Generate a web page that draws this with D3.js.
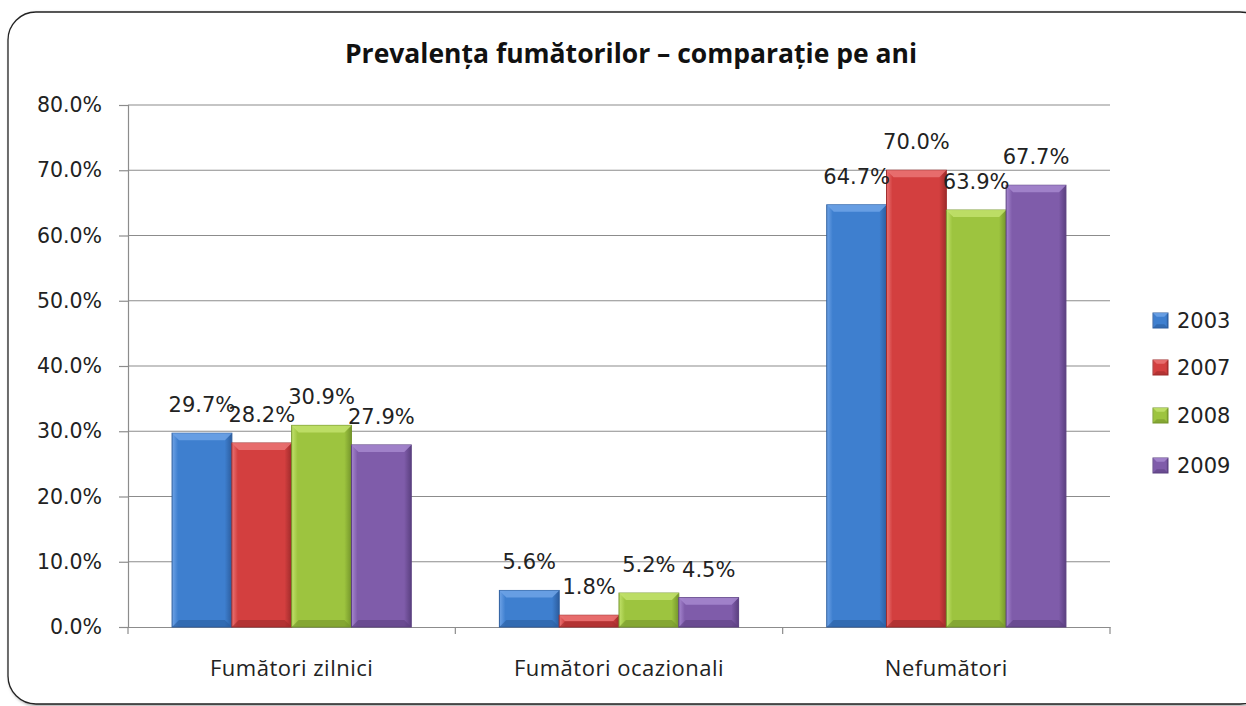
<!DOCTYPE html>
<html><head><meta charset="utf-8">
<script src="https://cdn.jsdelivr.net/npm/d3@7"></script>
<style>body{margin:0;background:#fff}svg{display:block}</style>
</head><body>
<script>
const categories = ["Fumători zilnici", "Fumători ocazionali", "Nefumători"];
const seriesNames = ["2003", "2007", "2008", "2009"];
const values2003 = [29.7, 5.6, 64.7];
const values2007 = [28.2, 1.8, 70.0];
const values2008 = [30.9, 5.2, 63.9];
const values2009 = [27.9, 4.5, 67.7];
const yTicks = [0, 10, 20, 30, 40, 50, 60, 70, 80];
const titleText = "Prevalența fumătorilor – comparație pe ani";

(function () {
const series = [values2003, values2007, values2008, values2009];
const colors = [
  {main:"#3e7fcf", light:"#6fa3e6", dark:"#2c5d9e"},
  {main:"#d33f3f", light:"#ea7474", dark:"#9e2b2b"},
  {main:"#9dc43f", light:"#c2e26c", dark:"#74952b"},
  {main:"#7f5caa", light:"#a687cf", dark:"#5b4080"}
];

const W = 1246, H = 706;
const svg = d3.select("body").append("svg").attr("width", W).attr("height", H);
const defs = svg.append("defs");
colors.forEach((c, i) => {
  const g = defs.append("linearGradient").attr("id", "g" + i).attr("x1", 0).attr("x2", 1).attr("y1", 0).attr("y2", 0);
  g.append("stop").attr("offset", 0).attr("stop-color", c.light);
  g.append("stop").attr("offset", 0.1).attr("stop-color", c.main);
  g.append("stop").attr("offset", 0.88).attr("stop-color", c.main);
  g.append("stop").attr("offset", 1).attr("stop-color", c.dark);
});
const sh = defs.append("filter").attr("id", "sh").attr("x", -0.05).attr("y", -0.05).attr("width", 1.1).attr("height", 1.1);
sh.append("feDropShadow").attr("dx", 1.5).attr("dy", 1.5).attr("stdDeviation", 1.5).attr("flood-color", "#000").attr("flood-opacity", 0.35);

// outer border
svg.append("rect").attr("x", 8).attr("y", 12).attr("width", 1260).attr("height", 692)
  .attr("rx", 28).attr("ry", 28).attr("fill", "#fff").attr("stroke", "#222").attr("stroke-width", 1.3)
  .attr("filter", "url(#sh)");

const pLeft = 128, pRight = 1110, pTop = 105, pBottom = 627;
const y = d3.scaleLinear().domain([0, 80]).range([pBottom, pTop]);
const x0 = d3.scaleBand().domain(categories).range([pLeft, pRight]).paddingInner(0).paddingOuter(0);
const x1 = d3.scaleBand().domain(seriesNames).range([0, x0.bandwidth()]).paddingOuter(0.737).paddingInner(0);

// title
svg.append("text").attr("x", 631).attr("y", 63).attr("text-anchor", "middle")
  .attr("font-family", "Open Sans, sans-serif").attr("font-weight", "bold").attr("font-size", 26.5)
  .attr("fill", "#111").text(titleText);

// gridlines
svg.append("g").selectAll("line").data(yTicks.filter(d => d > 0)).join("line")
  .attr("x1", pLeft).attr("x2", pRight).attr("y1", d => y(d)).attr("y2", d => y(d))
  .attr("stroke", "#8c8c8c").attr("stroke-width", 1.2);

// y axis
const yAxis = svg.append("g").attr("transform", `translate(${pLeft},0)`)
  .call(d3.axisLeft(y).tickValues(yTicks).tickFormat(d => d.toFixed(1) + "%").tickSize(9).tickPadding(17));
yAxis.select(".domain").attr("stroke", "#8c8c8c").attr("stroke-width", 1.2);
yAxis.selectAll(".tick line").attr("stroke", "#8c8c8c").attr("stroke-width", 1.2);
yAxis.selectAll(".tick text").attr("font-family", "DejaVu Sans, sans-serif").attr("font-size", 20.5).attr("fill", "#222");

// x axis
const xAxis = svg.append("g").attr("transform", `translate(0,${pBottom})`)
  .call(d3.axisBottom(x0).tickSize(0).tickPadding(0));
xAxis.select(".domain").attr("stroke", "#8c8c8c").attr("stroke-width", 1.2);
xAxis.selectAll(".tick text").attr("y", 49).attr("dy", 0)
  .attr("font-family", "Open Sans, sans-serif").attr("font-size", 22).attr("letter-spacing", 0.5).attr("fill", "#222");
svg.append("g").selectAll("line").data([0, 1, 2, 3]).join("line")
  .attr("x1", i => pLeft + i * x0.bandwidth()).attr("x2", i => pLeft + i * x0.bandwidth())
  .attr("y1", pBottom).attr("y2", pBottom + 7).attr("stroke", "#8c8c8c").attr("stroke-width", 1.2);

// bars
function bevelBar(g, bx, by, bw, bh, ci) {
  const c = colors[ci];
  g.append("rect").attr("x", bx).attr("y", by).attr("width", bw).attr("height", bh)
    .attr("fill", `url(#g${ci})`).attr("stroke", c.dark).attr("stroke-width", 1);
  const b = Math.min(7, bh / 2, bw / 4);
  g.append("path").attr("d", `M${bx},${by}L${bx + bw},${by}L${bx + bw - b},${by + b}L${bx + b},${by + b}Z`)
    .attr("fill", c.light).attr("opacity", 0.85);
  g.append("path").attr("d", `M${bx},${by + bh}L${bx + bw},${by + bh}L${bx + bw - b},${by + bh - b}L${bx + b},${by + bh - b}Z`)
    .attr("fill", c.dark).attr("opacity", 0.6);
}

const barsG = svg.append("g");
const labelsG = svg.append("g");
categories.forEach((cat, ci) => {
  seriesNames.forEach((s, si) => {
    const v = series[si][ci];
    const bx = x0(cat) + x1(s);
    const bw = x1.bandwidth();
    bevelBar(barsG, bx, y(v), bw, y(0) - y(v), si);
    labelsG.append("text").attr("x", bx + bw / 2).attr("y", y(v) - 21).attr("text-anchor", "middle")
      .attr("font-family", "DejaVu Sans, sans-serif").attr("font-size", 21).attr("fill", "#222")
      .text(v.toFixed(1) + "%");
  });
});

// legend
const legY = [321, 368, 416, 466];
const leg = svg.append("g");
seriesNames.forEach((s, i) => {
  bevelBar(leg, 1153, legY[i] - 8, 15, 15, i);
  leg.append("text").attr("x", 1177).attr("y", legY[i]).attr("dy", "0.35em")
    .attr("font-family", "DejaVu Sans, sans-serif").attr("font-size", 21).attr("fill", "#222").text(s);
});
})();
</script>
</body></html>
